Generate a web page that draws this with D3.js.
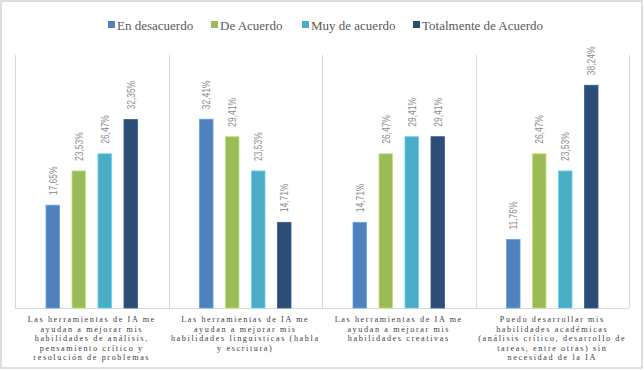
<!DOCTYPE html>
<html>
<head>
<meta charset="utf-8">
<script src="https://cdn.jsdelivr.net/npm/d3@7"></script>
<style>
  body { margin: 0; background: #fff; }
  svg { display: block; }
</style>
</head>
<body>
<svg id="chart" width="644" height="370"></svg>
<script>
// data
var categories = [
  ["Las herramientas de IA me", "ayudan a mejorar mis", "habilidades de análisis,", "pensamiento crítico y", "resolución de problemas"],
  ["Las herramientas de IA me", "ayudan a mejorar mis", "habilidades linguisticas (habla", "y escritura)"],
  ["Las herramientas de IA me", "ayudan a mejorar mis", "habilidades creativas"],
  ["Puedo desarrollar mis", "habilidades académicas", "(análisis crítico, desarrollo de", "tareas, entre otras) sin", "necesidad de la IA"]
];
var seriesNames = ["En desacuerdo", "De Acuerdo", "Muy de acuerdo", "Totalmente de Acuerdo"];
var enDesacuerdo = [17.65, 32.41, 14.71, 11.76];
var deAcuerdo = [23.53, 29.41, 26.47, 26.47];
var muyDeAcuerdo = [26.47, 23.53, 29.41, 23.53];
var totalmente = [32.35, 14.71, 29.41, 38.24];
var seriesValues = [enDesacuerdo, deAcuerdo, muyDeAcuerdo, totalmente];
var colors = ["#4f81bd", "#9bbb59", "#4bacc6", "#2c4d75"];

var svg = d3.select("#chart"),
    MARGINS = { top: 55, right: 15, bottom: 62, left: 15 },
    W = 644, H = 370,
    baseY = H - MARGINS.bottom,
    groupW = 91.5;

// outer frame
svg.append("rect")
  .attr("x", 1).attr("y", 1).attr("width", W - 3).attr("height", H - 3)
  .attr("fill", "none").attr("stroke", "#d4d4d4").attr("stroke-width", 1.5);

var x0 = d3.scaleBand()
  .domain(d3.range(categories.length))
  .range([MARGINS.left, W - MARGINS.right]);

var x1 = d3.scaleBand()
  .domain(d3.range(seriesNames.length))
  .range([0, groupW])
  .paddingInner(0.48);

var y = d3.scaleLinear()
  .domain([0, 40])
  .range([baseY, baseY - 233]);

// vertical category separators
var seps = d3.range(categories.length + 1).map(function(i) {
  return i < categories.length ? x0(i) : x0(i - 1) + x0.bandwidth();
});
svg.append("g").selectAll("line")
  .data(seps)
  .enter().append("line")
  .attr("x1", function(d) { return Math.round(d) + 0.5; })
  .attr("x2", function(d) { return Math.round(d) + 0.5; })
  .attr("y1", MARGINS.top)
  .attr("y2", baseY)
  .attr("stroke", "#d9d9d9");

// bottom axis line
svg.append("line")
  .attr("x1", MARGINS.left).attr("x2", W - MARGINS.right)
  .attr("y1", baseY + 0.5).attr("y2", baseY + 0.5)
  .attr("stroke", "#d9d9d9");

var groups = svg.selectAll(".grp")
  .data(categories)
  .enter().append("g")
  .attr("class", "grp")
  .attr("transform", function(d, i) {
    return "translate(" + (x0(i) + x0.bandwidth() / 2 - groupW / 2) + ",0)";
  });

groups.selectAll("rect")
  .data(function(d, i) {
    return seriesValues.map(function(s, j) { return { v: s[i], j: j }; });
  })
  .enter().append("rect")
  .attr("x", function(d) { return x1(d.j); })
  .attr("width", x1.bandwidth())
  .attr("y", function(d) { return y(d.v); })
  .attr("height", function(d) { return baseY - y(d.v); })
  .attr("fill", function(d) { return colors[d.j]; })
  .attr("stroke", function(d) { return d3.color(colors[d.j]).brighter(0.6); })
  .attr("stroke-width", 0.8);

// rotated value labels (squeezed along the text to mimic a narrow font)
groups.selectAll(".lbl")
  .data(function(d, i) {
    return seriesValues.map(function(s, j) { return { v: s[i], j: j }; });
  })
  .enter().append("text")
  .attr("class", "lbl")
  .attr("transform", function(d) {
    return "translate(" + (x1(d.j) + x1.bandwidth() / 2 + 4) + "," + (y(d.v) - 10) + ") rotate(-90) scale(0.77,1)";
  })
  .attr("font-family", "'Liberation Sans', Arial, sans-serif")
  .attr("font-size", 11)
  .attr("fill", "#8c8c8c")
  .text(function(d) { return d.v.toFixed(2).replace(".", ",") + "%"; });

// category labels
groups.each(function(lines, i) {
  var t = d3.select(this).append("text")
    .attr("x", groupW / 2)
    .attr("y", baseY + 14)
    .attr("text-anchor", "middle")
    .attr("font-family", "'Liberation Serif', serif")
    .attr("font-size", 8.2)
    .attr("letter-spacing", 1.6)
    .attr("fill", "#404040");
  lines.forEach(function(l, k) {
    t.append("tspan").attr("x", groupW / 2).attr("dy", k === 0 ? 0 : 9.6).text(l);
  });
});

// legend
var legendX = [108, 211, 302, 413];
var legend = svg.append("g").selectAll("g")
  .data(seriesNames)
  .enter().append("g")
  .attr("transform", function(d, i) { return "translate(" + legendX[i] + ",25)"; });
legend.append("rect")
  .attr("x", 0).attr("y", -4).attr("width", 7).attr("height", 7)
  .attr("fill", function(d, i) { return colors[i]; });
legend.append("text")
  .attr("x", 9).attr("y", 4.5)
  .attr("font-family", "'Liberation Serif', serif")
  .attr("font-size", 13)
  .attr("fill", "#595959")
  .text(function(d) { return d; });
</script>
</body>
</html>
